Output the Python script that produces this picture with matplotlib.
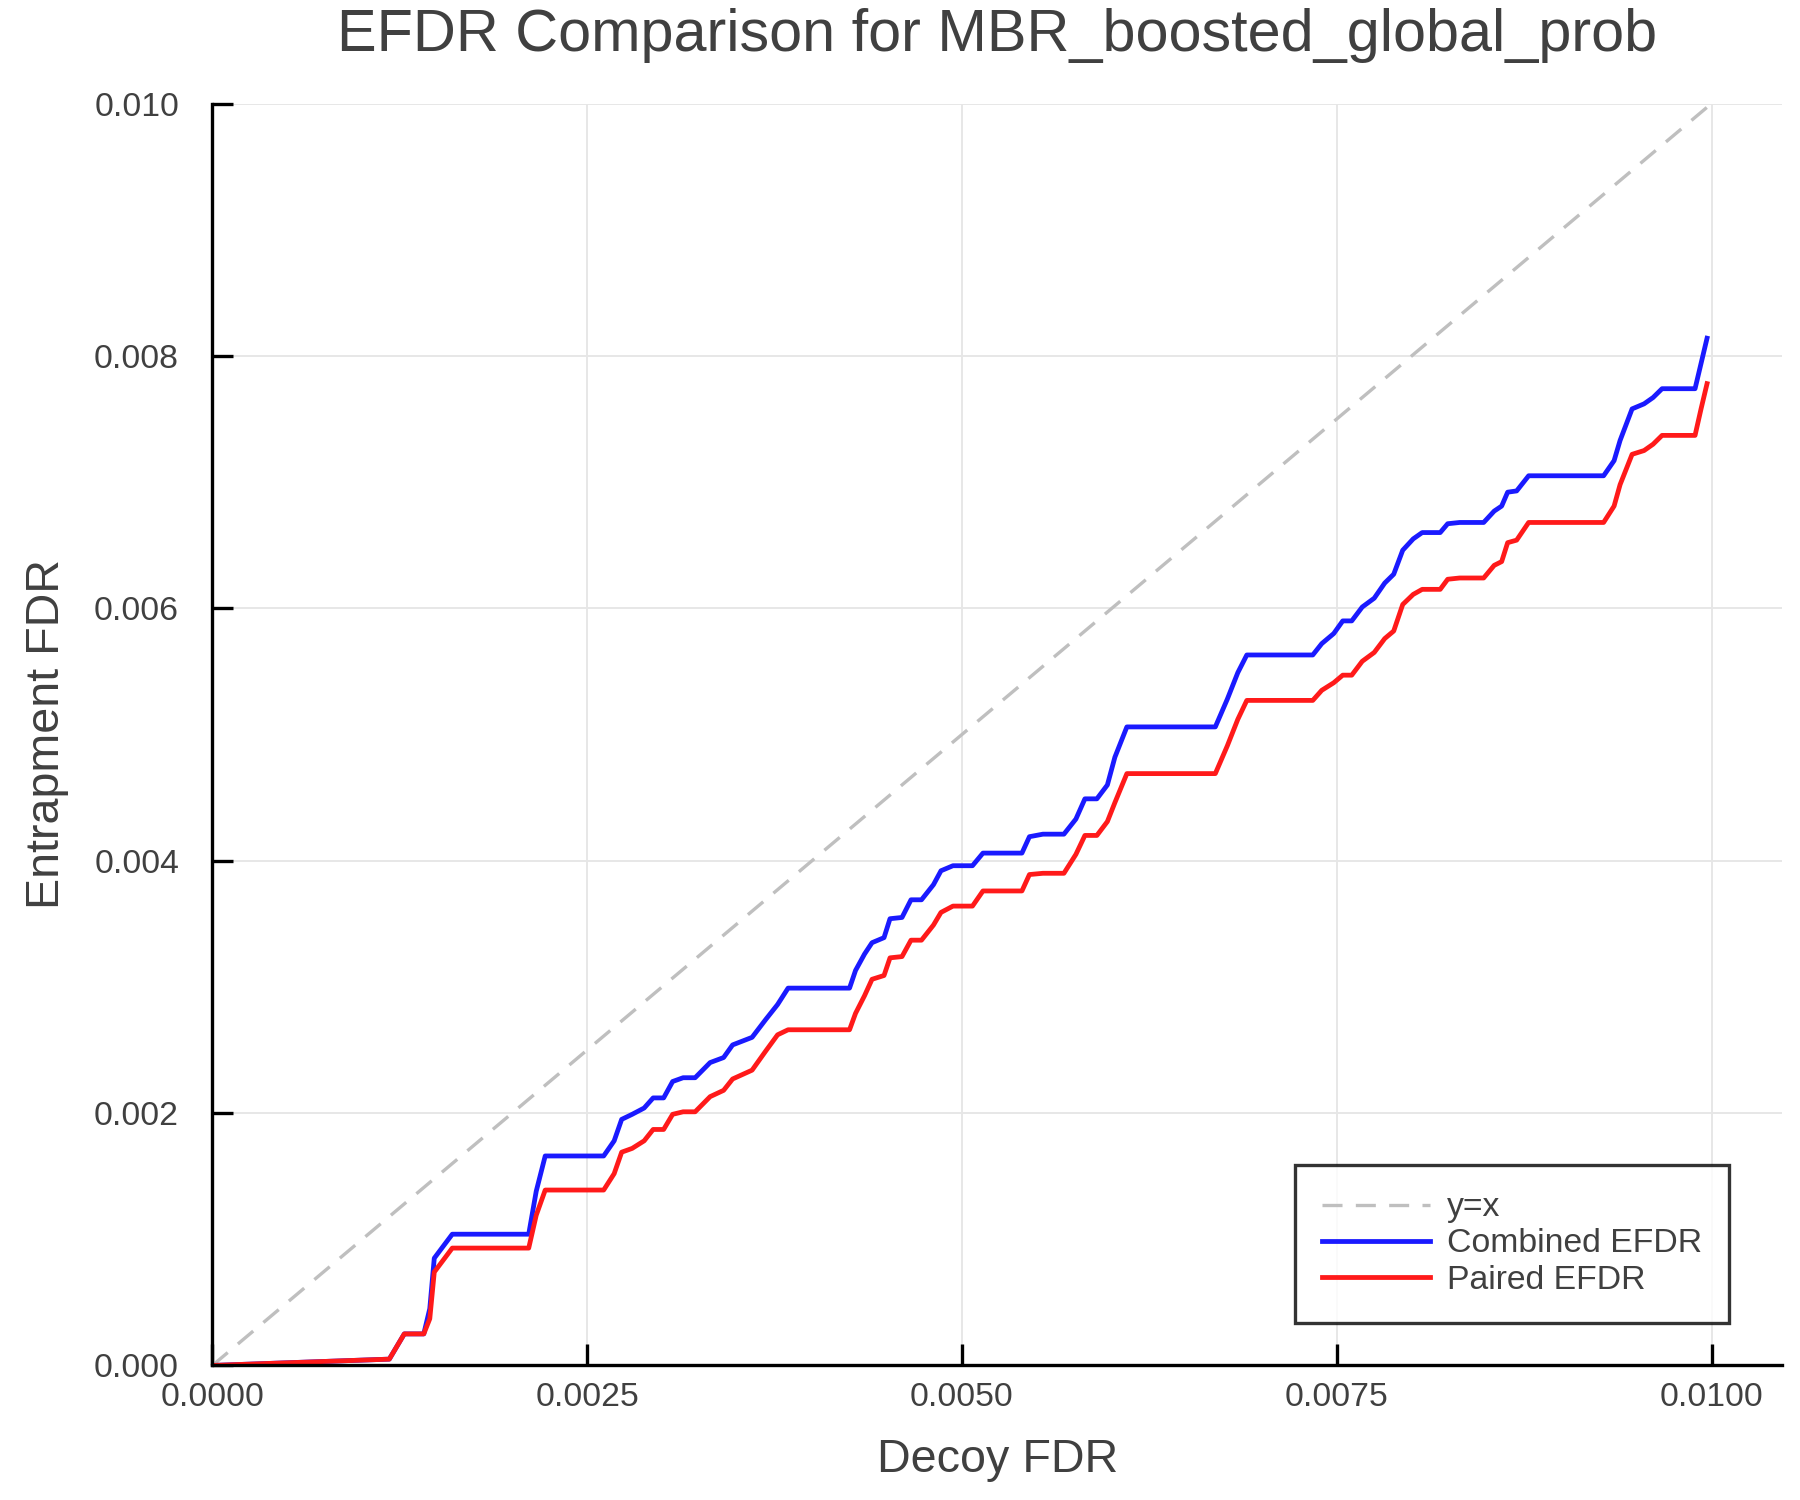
import matplotlib
matplotlib.use("Agg")
import matplotlib.pyplot as plt
import numpy as np

plt.rcParams['font.family'] = ['Liberation Sans', 'DejaVu Sans']

# Decoy FDR (x 1e-3)
decoy_fdr = [0.000, 1.18, 1.28, 1.41, 1.45, 1.48, 1.60, 2.11, 2.16, 2.22, 2.61, 2.68, 2.73,
             2.80, 2.88, 2.94, 3.01, 3.07, 3.14, 3.22, 3.32, 3.41, 3.47, 3.60, 3.69, 3.77,
             3.84, 4.25, 4.29, 4.35, 4.40, 4.48, 4.52, 4.60, 4.66, 4.73, 4.81, 4.86, 4.94,
             5.07, 5.14, 5.40, 5.45, 5.54, 5.68, 5.76, 5.82, 5.90, 5.97, 6.02, 6.10, 6.69,
             6.77, 6.84, 6.90, 7.34, 7.40, 7.48, 7.54, 7.60, 7.67, 7.75, 7.82, 7.88, 7.94,
             8.01, 8.07, 8.19, 8.24, 8.32, 8.48, 8.55, 8.60, 8.64, 8.70, 8.78, 9.28, 9.35,
             9.39, 9.47, 9.55, 9.61, 9.67, 9.89, 9.93, 9.97]
combined_efdr = [0.00, 0.05, 0.25, 0.25, 0.45, 0.85, 1.04, 1.04, 1.38, 1.66, 1.66, 1.78, 1.95,
                 1.99, 2.04, 2.12, 2.12, 2.25, 2.28, 2.28, 2.40, 2.44, 2.54, 2.60, 2.74, 2.86,
                 2.99, 2.99, 3.13, 3.26, 3.35, 3.39, 3.54, 3.55, 3.69, 3.69, 3.81, 3.92, 3.96,
                 3.96, 4.06, 4.06, 4.19, 4.21, 4.21, 4.33, 4.49, 4.49, 4.60, 4.82, 5.06, 5.06,
                 5.28, 5.49, 5.63, 5.63, 5.72, 5.80, 5.90, 5.90, 6.01, 6.08, 6.20, 6.27, 6.46,
                 6.55, 6.60, 6.60, 6.67, 6.68, 6.68, 6.77, 6.81, 6.92, 6.93, 7.05, 7.05, 7.17,
                 7.33, 7.58, 7.62, 7.67, 7.74, 7.74, 7.94, 8.14]
paired_efdr = [0.00, 0.05, 0.25, 0.25, 0.37, 0.74, 0.93, 0.93, 1.19, 1.39, 1.39, 1.52, 1.69,
               1.72, 1.78, 1.87, 1.87, 1.99, 2.01, 2.01, 2.13, 2.18, 2.27, 2.34, 2.49, 2.62,
               2.66, 2.66, 2.79, 2.93, 3.06, 3.09, 3.23, 3.24, 3.37, 3.37, 3.49, 3.59, 3.64,
               3.64, 3.76, 3.76, 3.89, 3.90, 3.90, 4.05, 4.20, 4.20, 4.31, 4.46, 4.69, 4.69,
               4.91, 5.12, 5.27, 5.27, 5.35, 5.41, 5.47, 5.47, 5.58, 5.65, 5.76, 5.82, 6.03,
               6.11, 6.15, 6.15, 6.23, 6.24, 6.24, 6.34, 6.37, 6.52, 6.54, 6.68, 6.68, 6.81,
               6.98, 7.22, 7.25, 7.30, 7.37, 7.37, 7.58, 7.78]
diag = [0.0, 0.01]
x_ticks = [0.0, 0.0025, 0.005, 0.0075, 0.01]
x_tick_labels = ["0.0000", "0.0025", "0.0050", "0.0075", "0.0100"]
y_ticks = [0.0, 0.002, 0.004, 0.006, 0.008, 0.010]
y_tick_labels = ["0.000", "0.002", "0.004", "0.006", "0.008", "0.010"]

x = np.array(decoy_fdr) * 1e-3
yc = np.array(combined_efdr) * 1e-3
yp = np.array(paired_efdr) * 1e-3

txt = '#404040'
fig = plt.figure(figsize=(12, 10), dpi=150)
ax = fig.add_axes([0.118, 0.0897, 0.872, 0.8413])

ax.plot(diag, diag, color='#bfbfbf', lw=1.6, dashes=(6, 4), label='y=x')
ax.plot(x, yc, color='#1a1aff', lw=2.3, label='Combined EFDR')
ax.plot(x, yp, color='#ff1a1a', lw=2.3, label='Paired EFDR')

ax.set_xlim(0, 0.01047)
ax.set_ylim(0, 0.010)
ax.set_xticks(x_ticks)
ax.set_xticklabels(x_tick_labels)
ax.set_yticks(y_ticks)
ax.set_yticklabels(y_tick_labels)
ax.grid(True, color='#e6e6e6', lw=0.9)
ax.set_axisbelow(True)
for s in ['top', 'right']:
    ax.spines[s].set_visible(False)
for s in ['left', 'bottom']:
    ax.spines[s].set_linewidth(1.6)
    ax.spines[s].set_color('black')
ax.tick_params(direction='in', length=10, width=1.6, labelsize=16.2, labelcolor=txt)
ax.tick_params(axis='x', pad=8)
ax.tick_params(axis='y', pad=16)

ax.set_xlabel('Decoy FDR', fontsize=22.4, color=txt, labelpad=12)
ax.set_ylabel('Entrapment FDR', fontsize=22.4, color=txt, labelpad=12)
ax.set_title('EFDR Comparison for MBR_boosted_global_prob', fontsize=28.5, color=txt, pad=25)

leg = ax.legend(loc='lower right', bbox_to_anchor=(0.966, 0.034), fontsize=16.2, frameon=True,
                fancybox=False, edgecolor='black', handlelength=3.2, labelspacing=0.15,
                borderpad=0.8, handletextpad=0.5, borderaxespad=0)
leg.get_frame().set_linewidth(1.6)
for t in leg.get_texts():
    t.set_color(txt)

fig.savefig('out.png', dpi=150, facecolor='white')
